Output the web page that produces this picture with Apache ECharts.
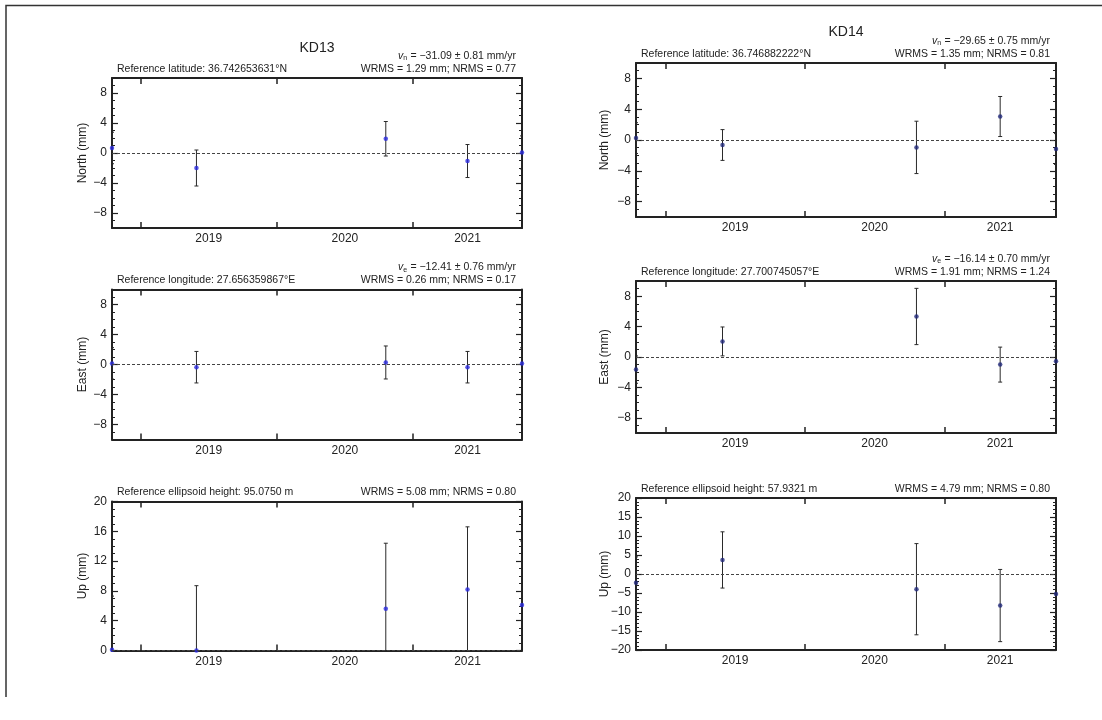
<!DOCTYPE html>
<html><head><meta charset="utf-8">
<script src="https://cdn.jsdelivr.net/npm/echarts@6/dist/echarts.min.js"></script>
<style>html,body{margin:0;padding:0;background:#fff}#c{width:1102px;height:720px}</style>
</head><body><div id="c"></div><script>
// ---- data ----
const epochs = [2018.79, 2019.41, 2020.80, 2021.40, 2021.80];
const yearTicks = [2019, 2020, 2021];
const yearLabelPos = [2019.5, 2020.5, 2021.4];
const neTicks = [-8, -4, 0, 4, 8];
const kd13UpTicks = [0, 4, 8, 12, 16, 20];
const kd14UpTicks = [-20, -15, -10, -5, 0, 5, 10, 15, 20];

const kd13North = [0.67, -2.0, 1.9, -1.07, 0.08];
const kd13NorthErr = [2.1, 2.4, 2.3, 2.2, 2.2];
const kd13East = [0.15, -0.36, 0.27, -0.36, 0.13];
const kd13EastErr = [2.1, 2.1, 2.2, 2.1, 2.1];
const kd13Up = [0.1, 0.0, 5.6, 8.2, 6.1];
const kd13UpErr = [7.2, 8.7, 8.8, 8.4, 8.6];
const kd14North = [0.25, -0.65, -0.96, 3.05, -1.17];
const kd14NorthErr = [2.0, 2.0, 3.4, 2.6, 2.0];
const kd14East = [-1.66, 2.05, 5.33, -1.0, -0.57];
const kd14EastErr = [1.8, 1.9, 3.7, 2.3, 2.0];
const kd14Up = [-2.3, 3.7, -4.0, -8.3, -5.25];
const kd14UpErr = [6.8, 7.4, 12.0, 9.5, 6.2];

const stationNames = ['KD13', 'KD14'];
const refTexts = [
  'Reference latitude: 36.742653631°N', 'Reference longitude: 27.656359867°E', 'Reference ellipsoid height: 95.0750 m',
  'Reference latitude: 36.746882222°N', 'Reference longitude: 27.700745057°E', 'Reference ellipsoid height: 57.9321 m'
];
const rmsTexts = [
  'WRMS = 1.29 mm; NRMS = 0.77', 'WRMS = 0.26 mm; NRMS = 0.17', 'WRMS = 5.08 mm; NRMS = 0.80',
  'WRMS = 1.35 mm; NRMS = 0.81', 'WRMS = 1.91 mm; NRMS = 1.24', 'WRMS = 4.79 mm; NRMS = 0.80'
];
const velTexts = [
  ['n', '= \u221231.09 \u00b1 0.81 mm/yr'], ['e', '= \u221212.41 \u00b1 0.76 mm/yr'], null,
  ['n', '= \u221229.65 \u00b1 0.75 mm/yr'], ['e', '= \u221216.14 \u00b1 0.70 mm/yr'], null
];

// ---- layout ----
const FONT = '"Liberation Sans", Arial, Helvetica, sans-serif';
const INK = '#222';
const panels = [
  {g:{left:112, top:78, width:410, height:150}, y:kd13North, e:kd13NorthErr, min:-10, max:10, major:neTicks, name:'North (mm)', color:'#2a2ae0', gap:23},
  {g:{left:112, top:289.5, width:410, height:150}, y:kd13East, e:kd13EastErr, min:-10, max:10, major:neTicks, name:'East (mm)', color:'#2a2ae0', gap:23},
  {g:{left:112, top:501.5, width:410, height:149}, y:kd13Up, e:kd13UpErr, min:0, max:20, major:kd13UpTicks, name:'Up (mm)', color:'#2a2ae0', gap:23},
  {g:{left:636, top:63, width:420, height:154}, y:kd14North, e:kd14NorthErr, min:-10, max:10, major:neTicks, name:'North (mm)', color:'#20287a', gap:25},
  {g:{left:636, top:281, width:420, height:152}, y:kd14East, e:kd14EastErr, min:-10, max:10, major:neTicks, name:'East (mm)', color:'#20287a', gap:25},
  {g:{left:636, top:498, width:420, height:152}, y:kd14Up, e:kd14UpErr, min:-20, max:20, major:kd14UpTicks, name:'Up (mm)', color:'#20287a', gap:25}
];

const fmt = v => String(v).replace('-', '\u2212');
const grid = [], xAxis = [], yAxis = [], series = [], graphic = [];

panels.forEach((p, i) => {
  grid.push(Object.assign({containLabel:false}, p.g));
  const xBase = {
    type:'value', gridIndex:i, min:epochs[0], max:epochs[epochs.length-1],
    splitLine:{show:false},
    axisLine:{show:true, onZero:false, lineStyle:{color:INK, width:2}},
    axisTick:{show:true, inside:true, length:6, customValues:yearTicks, lineStyle:{color:INK, width:1.5}}
  };
  xAxis.push(Object.assign({}, xBase, {position:'bottom',
    axisLabel:{show:true, customValues:yearLabelPos, formatter:v => String(Math.floor(v)), fontSize:12, color:INK, fontFamily:FONT, margin:5}}));
  xAxis.push(Object.assign({}, xBase, {position:'top', axisLabel:{show:false}}));

  const yBase = {
    type:'value', gridIndex:i, min:p.min, max:p.max, interval:1, splitLine:{show:false}
  };
  yAxis.push(Object.assign({}, yBase, {position:'left',
    axisLine:{show:true, onZero:false, lineStyle:{color:INK, width:2}},
    axisTick:{show:true, inside:true, length:3, lineStyle:{color:INK, width:1}},
    axisLabel:{show:false},
    name:p.name, nameLocation:'middle', nameGap:p.gap,
    nameTextStyle:{fontSize:12, color:INK, fontFamily:FONT}}));
  yAxis.push(Object.assign({}, yBase, {position:'right',
    axisLine:{show:true, onZero:false, lineStyle:{color:INK, width:2}},
    axisTick:{show:true, inside:true, length:3, lineStyle:{color:INK, width:1}},
    axisLabel:{show:false}}));
  yAxis.push(Object.assign({}, yBase, {position:'left',
    axisLine:{show:false, onZero:false},
    axisTick:{show:true, inside:true, length:6, customValues:p.major, lineStyle:{color:INK, width:1.2}},
    axisLabel:{show:true, customValues:p.major, formatter:fmt, fontSize:12, color:INK, fontFamily:FONT, margin:5}}));
  yAxis.push(Object.assign({}, yBase, {position:'right',
    axisLine:{show:false, onZero:false},
    axisTick:{show:true, inside:true, length:6, customValues:p.major, lineStyle:{color:INK, width:1.2}},
    axisLabel:{show:false}}));

  const errData = epochs.map((x, k) => [x, p.y[k] - p.e[k], p.y[k] + p.e[k]]);
  series.push({
    type:'custom', xAxisIndex:2*i, yAxisIndex:4*i, clip:true, silent:true, z:2,
    data:errData,
    renderItem:(params, api) => {
      const x = api.value(0);
      const a = api.coord([x, api.value(2)]);
      const b = api.coord([x, api.value(1)]);
      const c = 2;
      const st = {stroke:'#2a2a2a', lineWidth:1};
      return {type:'group', children:[
        {type:'line', shape:{x1:a[0], y1:a[1], x2:b[0], y2:b[1]}, style:st},
        {type:'line', shape:{x1:a[0]-c, y1:a[1], x2:a[0]+c, y2:a[1]}, style:st},
        {type:'line', shape:{x1:b[0]-c, y1:b[1], x2:b[0]+c, y2:b[1]}, style:st}
      ]};
    }
  });
  series.push({
    type:'scatter', xAxisIndex:2*i, yAxisIndex:4*i, clip:true, silent:true, z:3,
    symbolSize:4.5, itemStyle:{color:p.color},
    data:epochs.map((x, k) => [x, p.y[k]]),
    markLine:{silent:true, symbol:'none', label:{show:false},
      lineStyle:{type:[3,2], color:'#444', width:1},
      data:[{yAxis:0}]}
  });

  // header texts
  const left = p.g.left, right = p.g.left + p.g.width, top = p.g.top;
  graphic.push({type:'text', x:left + 5, y:top - 9,
    style:{text:refTexts[i], font:'10.5px ' + FONT, fill:INK, align:'left', verticalAlign:'middle'}});
  graphic.push({type:'text', x:right - 6, y:top - 9,
    style:{text:rmsTexts[i], font:'10.5px ' + FONT, fill:INK, align:'right', verticalAlign:'middle'}});
  if (velTexts[i]) {
    graphic.push({type:'text', x:right - 6, y:top - 22,
      style:{text:'{v|v}{s|' + velTexts[i][0] + '} {t|' + velTexts[i][1] + '}',
        align:'right', verticalAlign:'middle', fill:INK,
        rich:{
          v:{fontStyle:'italic', fontSize:10.5, fontFamily:FONT, fill:INK, lineHeight:12},
          s:{fontSize:7, fontFamily:FONT, fill:INK, verticalAlign:'bottom', lineHeight:8, padding:[5,0,0,0]},
          t:{fontSize:10.5, fontFamily:FONT, fill:INK, lineHeight:12}
        }}});
  }
});

// station titles
graphic.push({type:'text', x:317, y:48, style:{text:stationNames[0], font:'14px ' + FONT, fill:INK, align:'center', verticalAlign:'middle'}});
graphic.push({type:'text', x:846, y:32.5, style:{text:stationNames[1], font:'14px ' + FONT, fill:INK, align:'center', verticalAlign:'middle'}});
// outer frame (left and top edges)
graphic.push({type:'polyline', shape:{points:[[6,697],[6,5.5],[1102,5.5]]}, style:{stroke:'#333', lineWidth:1.5, fill:null}});

const chart = echarts.init(document.getElementById('c'), null, {renderer:'canvas'});
chart.setOption({animation:false, backgroundColor:'#fff', grid, xAxis, yAxis, series, graphic});
</script></body></html>
